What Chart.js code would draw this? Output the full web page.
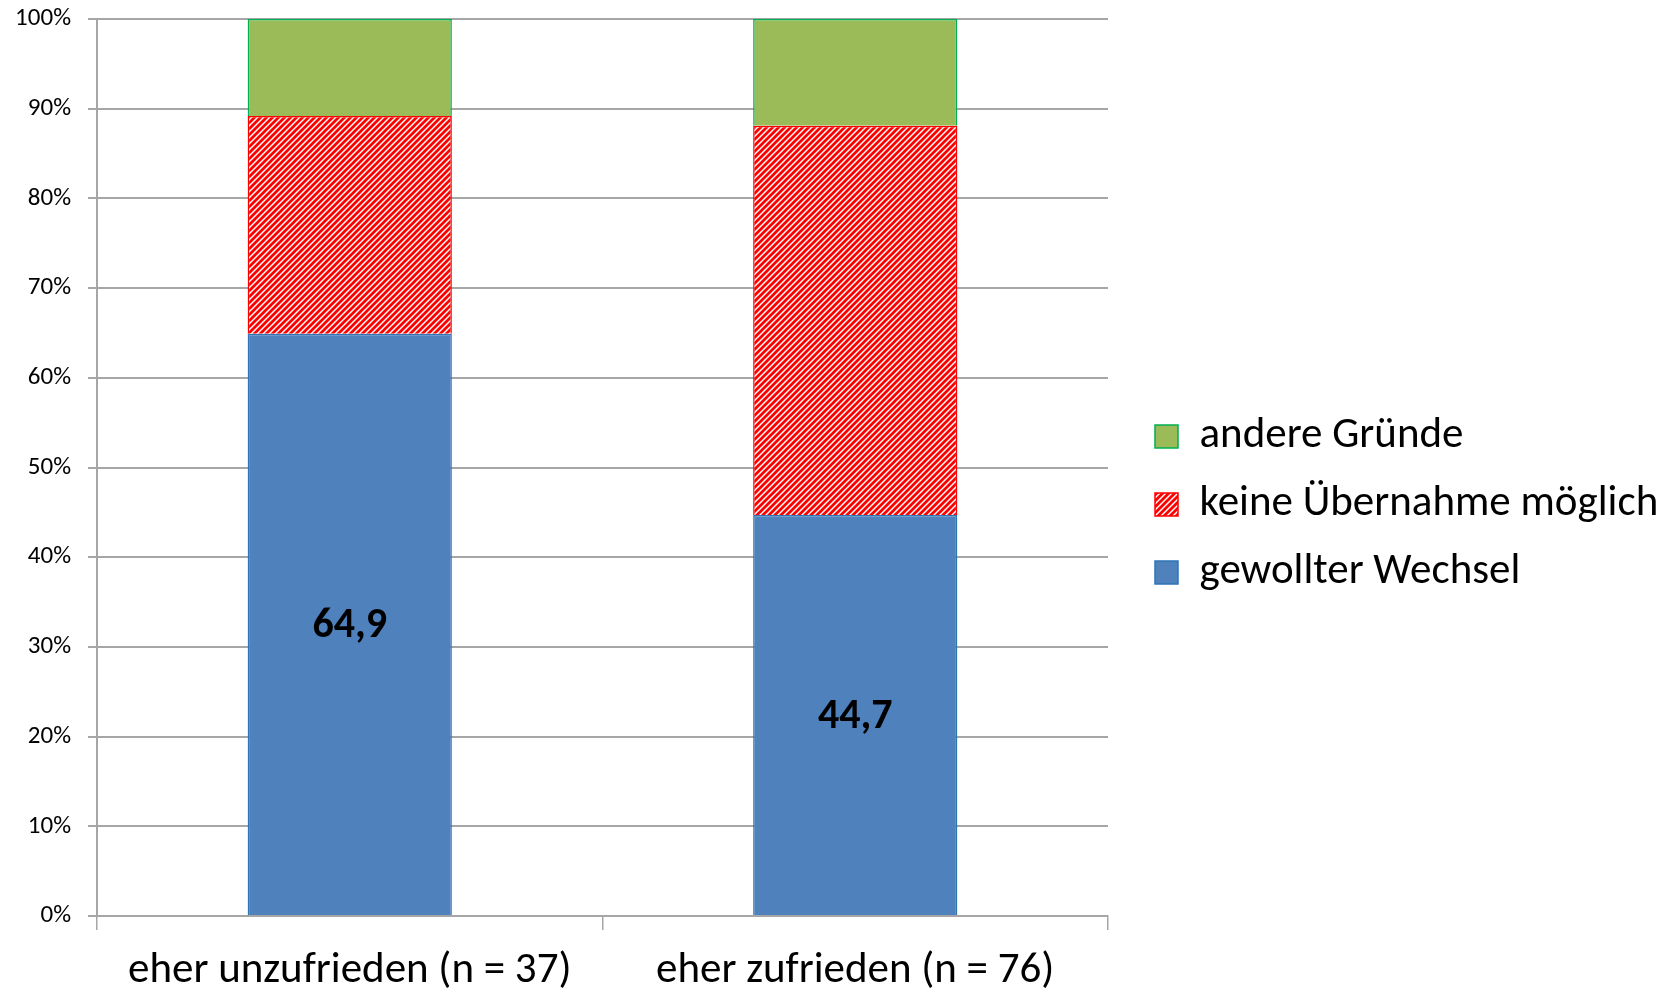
<!DOCTYPE html>
<html lang="de">
<head>
  <meta charset="UTF-8">
  <title>Wechselgründe nach Zufriedenheit</title>
  <script src="https://cdn.jsdelivr.net/npm/chart.js"></script>
  <style>
    html, body { margin: 0; padding: 0; background: #fff; }
    #wrap { width: 1664px; height: 990px; }
  </style>
</head>
<body>
  <div id="wrap"><canvas id="myChart" width="1664" height="990"></canvas></div>

  <script>
    // Daten (Anteile in %)
    const categories = ['eher unzufrieden (n = 37)', 'eher zufrieden (n = 76)'];
    const gewollterWechsel = [64.9, 44.7];
    const keineUebernahme = [24.3, 43.4];
    const andereGruende = [10.8, 11.9];
    const seriesNames = ['gewollter Wechsel', 'keine Übernahme möglich', 'andere Gründe'];

    const FONT = 'Carlito, Calibri, Lato, sans-serif';

    // rot-weiß schraffiertes Muster
    function makeHatch() {
      const c = document.createElement('canvas');
      c.width = 6; c.height = 6;
      const p = c.getContext('2d');
      p.fillStyle = '#ffffff';
      p.fillRect(0, 0, 6, 6);
      p.strokeStyle = '#ff0000';
      p.lineWidth = 2.8;
      p.beginPath();
      p.moveTo(-1, 7); p.lineTo(7, -1);
      p.moveTo(-1, 1); p.lineTo(1, -1);
      p.moveTo(5, 7); p.lineTo(7, 5);
      p.stroke();
      return document.getElementById('myChart').getContext('2d').createPattern(c, 'repeat');
    }

    // Wert in der Mitte der blauen Balken
    const valueLabels = {
      id: 'valueLabels',
      afterDatasetsDraw(chart) {
        const ctx = chart.ctx;
        const meta = chart.getDatasetMeta(0);
        ctx.save();
        ctx.font = 'bold 42px ' + FONT;
        ctx.fillStyle = '#000';
        ctx.textAlign = 'center';
        ctx.textBaseline = 'middle';
        meta.data.forEach((bar, i) => {
          const txt = gewollterWechsel[i].toFixed(1).replace('.', ',');
          ctx.fillText(txt, bar.x, (bar.y + bar.base) / 2 + 2);
        });
        ctx.restore();
      }
    };

    Chart.defaults.color = '#000';
    Chart.defaults.font.family = FONT;

    const ctx = document.getElementById('myChart').getContext('2d');
    const myChart = new Chart(ctx, {
      type: 'bar',
      data: {
        labels: categories,
        datasets: [{
          label: seriesNames[0],
          data: gewollterWechsel,
          backgroundColor: '#4f81bd',
          borderColor: '#2e75b6',
          borderWidth: 1.5
        }, {
          label: seriesNames[1],
          data: keineUebernahme,
          backgroundColor: makeHatch(),
          borderColor: '#ff0000',
          borderWidth: 1.5
        }, {
          label: seriesNames[2],
          data: andereGruende,
          backgroundColor: '#9bbb59',
          borderColor: '#00b050',
          borderWidth: 1.5
        }]
      },
      options: {
        responsive: false,
        maintainAspectRatio: false,
        animation: false,
        layout: { padding: { top: 19, left: 0, right: 0, bottom: 0 } },
        datasets: { bar: { categoryPercentage: 1, barPercentage: 0.404 } },
        plugins: {
          tooltip: { enabled: false },
          legend: {
            position: 'right',
            reverse: true,
            maxWidth: 534,
            labels: {
              boxWidth: 23,
              boxHeight: 23,
              padding: 25,
              font: { size: 43, family: FONT },
              color: '#000'
            }
          }
        },
        scales: {
          x: {
            stacked: true,
            offset: true,
            afterFit(scale) { scale.height = 74; },
            grid: {
              offset: true,
              drawOnChartArea: false,
              drawTicks: true,
              tickLength: 14,
              color: '#a6a6a6',
              lineWidth: 1.5
            },
            border: { color: '#a6a6a6', width: 2 },
            ticks: { font: { size: 43, family: FONT }, padding: 15, color: '#000', maxRotation: 0 }
          },
          y: {
            stacked: true,
            min: 0,
            max: 100,
            afterFit(scale) {
              scale.width = 97;
              scale.paddingTop = 0;
              scale.paddingBottom = 0;
            },
            grid: {
              color: '#a6a6a6',
              lineWidth: 2,
              tickLength: 9
            },
            border: { color: '#a6a6a6', width: 2 },
            ticks: {
              stepSize: 10,
              padding: 17,
              font: { size: 25, family: FONT },
              color: '#000',
              callback: v => v + '%'
            }
          },
          // leere Achse rechts: Abstand zwischen Diagramm und Legende
          spacer: {
            position: 'right',
            afterFit(scale) { scale.width = 22; },
            grid: { display: false },
            border: { display: false },
            ticks: { display: false }
          }
        }
      },
      plugins: [valueLabels]
    });
  </script>
</body>
</html>
